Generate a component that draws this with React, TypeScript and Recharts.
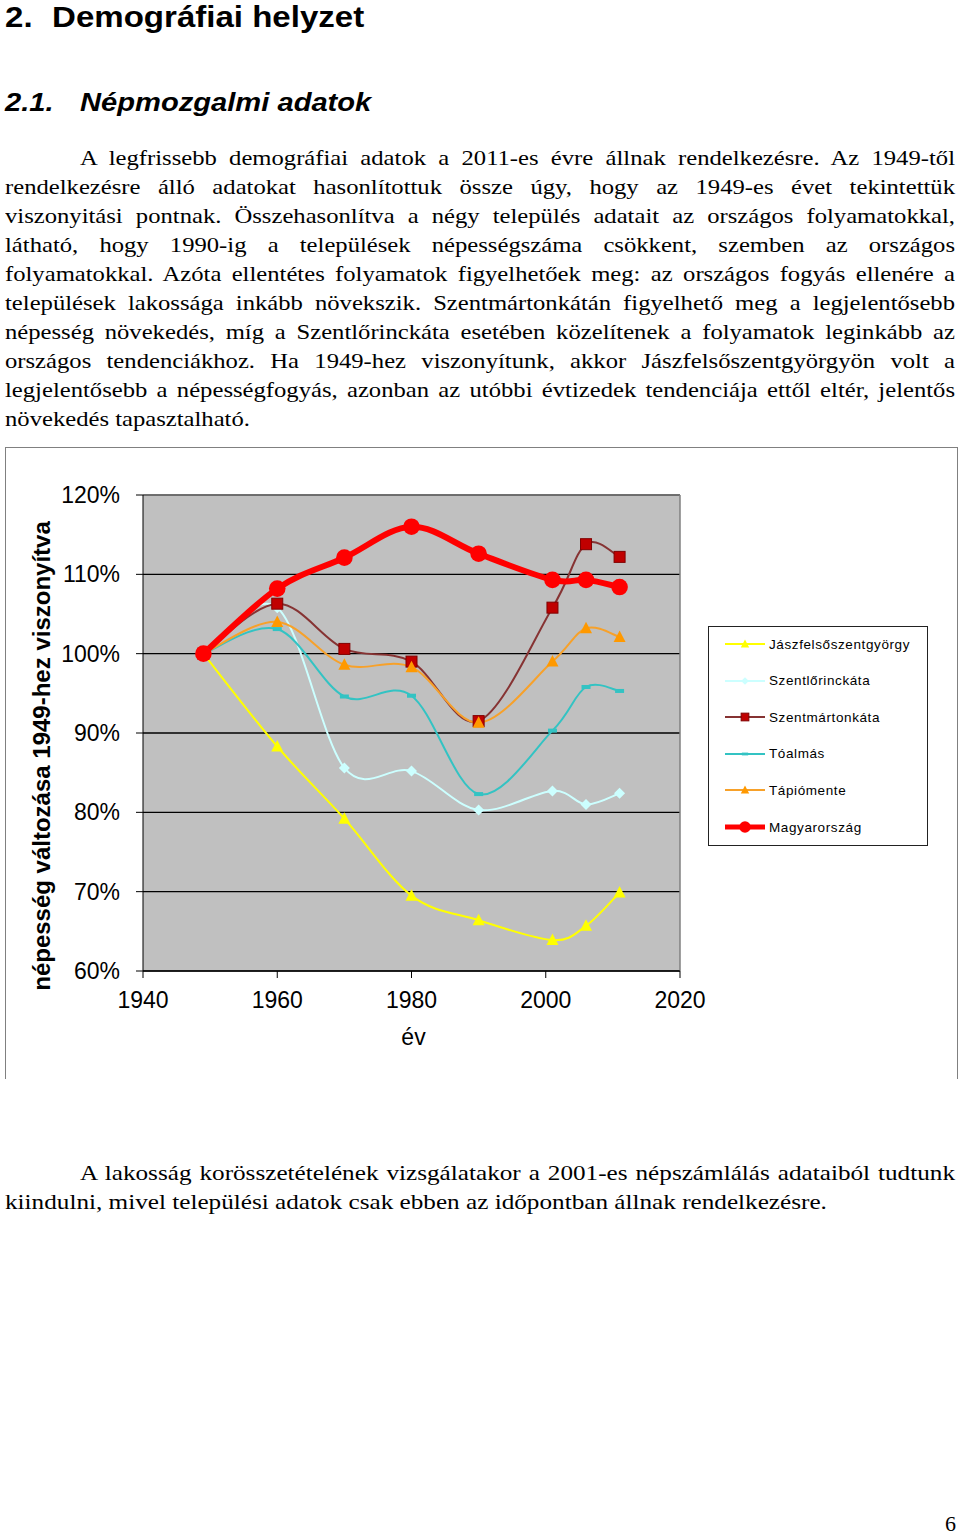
import React from "react";
import { LineChart, Line, XAxis, YAxis, CartesianGrid, Legend, ReferenceLine } from "recharts";

// measurement years and values (% of 1949)
const years = [1949, 1960, 1970, 1980, 1990, 2001, 2006, 2011];
const jaszfelsoszentgyorgy = [100, 88.3, 79.2, 69.5, 66.4, 63.9, 65.7, 69.9];
const szentlorinckata = [100, 105.8, 85.6, 85.2, 80.3, 82.7, 81.0, 82.4];
const szentmartonkata = [100, 106.3, 100.6, 99.0, 91.5, 105.8, 113.8, 112.2];
const toalmas = [100, 103.1, 94.6, 94.7, 82.3, 90.3, 95.8, 95.3];
const tapiomente = [100, 104.0, 98.6, 98.3, 91.3, 99.0, 103.2, 102.1];
const magyarorszag = [100, 108.2, 112.1, 116.0, 112.6, 109.3, 109.3, 108.4];

const xTicks = [1940, 1960, 1980, 2000, 2020];
const yTicks = [60, 70, 80, 90, 100, 110, 120];

const series = [
  { key: "jasz", name: "Jászfelsőszentgyörgy", values: jaszfelsoszentgyorgy, color: "#ffff00", width: 2, marker: "triangle", fill: "#ffff00", edge: "none", legendWidth: 2 },
  { key: "lorinc", name: "Szentlőrinckáta", values: szentlorinckata, color: "#ccffff", width: 2, marker: "diamond", fill: "#ccffff", edge: "none", legendWidth: 2 },
  { key: "marton", name: "Szentmártonkáta", values: szentmartonkata, color: "#863333", width: 2, marker: "square", fill: "#c00000", edge: "#800000", legendWidth: 2 },
  { key: "toalmas", name: "Tóalmás", values: toalmas, color: "#33c3c3", width: 2, marker: "dash", fill: "#33c3c3", edge: "none", legendWidth: 2 },
  { key: "tapio", name: "Tápiómente", values: tapiomente, color: "#f7a12a", width: 2, marker: "triangle", fill: "#ff9900", edge: "none", legendWidth: 2 },
  { key: "hu", name: "Magyarország", values: magyarorszag, color: "#ff0000", width: 6, marker: "circle", fill: "#ff0000", edge: "none", legendWidth: 5 },
];

const data = years.map((year, i) => {
  const row: Record<string, number> = { year };
  series.forEach((s) => (row[s.key] = s.values[i]));
  return row;
});

const paragraph1 = [
  "A legfrissebb demográfiai adatok a 2011-es évre állnak rendelkezésre. Az 1949-től",
  "rendelkezésre álló adatokat hasonlítottuk össze úgy, hogy az 1949-es évet tekintettük",
  "viszonyitási pontnak. Összehasonlítva a négy település adatait az országos folyamatokkal,",
  "látható, hogy 1990-ig a települések népességszáma csökkent, szemben az országos",
  "folyamatokkal. Azóta ellentétes folyamatok figyelhetőek meg: az országos fogyás ellenére a",
  "települések lakossága inkább növekszik. Szentmártonkátán figyelhető meg a legjelentősebb",
  "népesség növekedés, míg a Szentlőrinckáta esetében közelítenek a folyamatok leginkább az",
  "országos tendenciákhoz. Ha 1949-hez viszonyítunk, akkor Jászfelsőszentgyörgyön volt a",
  "legjelentősebb a népességfogyás, azonban az utóbbi évtizedek tendenciája ettől eltér, jelentős",
  "növekedés tapasztalható.",
];

const paragraph2 = [
  "A lakosság korösszetételének vizsgálatakor a 2001-es népszámlálás adataiból tudtunk",
  "kiindulni, mivel települési adatok csak ebben az időpontban állnak rendelkezésre.",
];

const serif = '"Liberation Serif", "Times New Roman", serif';
const sans = '"Liberation Sans", Arial, sans-serif';

// Excel-like smoothed line (Catmull-Rom through the points)
const excelSmooth: any = (context: any) => {
  let pts: number[][] = [];
  return {
    areaStart() {},
    areaEnd() {},
    lineStart() {
      pts = [];
    },
    point(x: number, y: number) {
      pts.push([+x, +y]);
    },
    lineEnd() {
      const n = pts.length;
      if (!n) return;
      context.moveTo(pts[0][0], pts[0][1]);
      for (let i = 0; i < n - 1; i++) {
        const p0 = pts[Math.max(i - 1, 0)];
        const p1 = pts[i];
        const p2 = pts[i + 1];
        const p3 = pts[Math.min(i + 2, n - 1)];
        context.bezierCurveTo(
          p1[0] + (p2[0] - p0[0]) / 6,
          p1[1] + (p2[1] - p0[1]) / 6,
          p2[0] - (p3[0] - p1[0]) / 6,
          p2[1] - (p3[1] - p1[1]) / 6,
          p2[0],
          p2[1]
        );
      }
    },
  };
};

const Marker = ({ kind, cx, cy, fill, edge, s = 1 }: any) => {
  if (cx == null || cy == null) return null;
  switch (kind) {
    case "triangle":
      return <polygon points={`${cx},${cy - 6.5 * s} ${cx - 6 * s},${cy + 5 * s} ${cx + 6 * s},${cy + 5 * s}`} fill={fill} />;
    case "diamond":
      return <polygon points={`${cx},${cy - 5.5 * s} ${cx + 5.5 * s},${cy} ${cx},${cy + 5.5 * s} ${cx - 5.5 * s},${cy}`} fill={fill} />;
    case "square":
      return <rect x={cx - 5.5 * s} y={cy - 5.5 * s} width={11 * s} height={11 * s} fill={fill} stroke={edge} strokeWidth={1} />;
    case "dash":
      return <rect x={cx - 4.5 * s} y={cy - 2 * s} width={9 * s} height={4 * s} fill={fill} />;
    default:
      return <circle cx={cx} cy={cy} r={8.3 * s} fill={fill} />;
  }
};

const LegendBox = () => (
  <div style={{ width: 220, height: 220, boxSizing: "border-box", border: "1px solid #222", background: "#fff", position: "relative" }}>
    {series.map((s, i) => (
      <div key={s.key} style={{ position: "absolute", left: 0, top: 7 + i * 36.6, height: 20, display: "flex", alignItems: "center" }}>
        <svg width={60} height={20}>
          <line x1={16} x2={56} y1={10} y2={10} stroke={s.color} strokeWidth={s.legendWidth} />
          <Marker kind={s.marker} cx={36} cy={10} fill={s.fill} edge={s.edge} s={0.7} />
        </svg>
        <span style={{ fontFamily: sans, fontSize: 13.5, letterSpacing: 0.6, color: "#000", whiteSpace: "nowrap" }}>{s.name}</span>
      </div>
    ))}
  </div>
);

const YLabel = ({ viewBox }: any) => {
  const x = (viewBox?.x ?? 0) + 44;
  const y = (viewBox?.y ?? 0) + (viewBox?.height ?? 0) / 2 + 23;
  return (
    <text x={x} y={y} transform={`rotate(-90, ${x}, ${y})`} textAnchor="middle" fontFamily={sans} fontSize={24} fontWeight="bold" fill="#000">
      népesség változása 1949-hez viszonyítva
    </text>
  );
};

const XLabel = ({ viewBox }: any) => {
  const x = (viewBox?.x ?? 0) + (viewBox?.width ?? 0) / 2 + 2;
  const y = (viewBox?.y ?? 0) + 74;
  return (
    <text x={x} y={y} textAnchor="middle" fontFamily={sans} fontSize={23} fill="#000">
      év
    </text>
  );
};

const TextBlock = ({ lines, top, stretch }: { lines: string[]; top: number; stretch: number }) => (
  <div
    style={{
      position: "absolute",
      left: 5,
      top,
      width: 950 / stretch,
      transform: `scaleX(${stretch})`,
      transformOrigin: "0 0",
      fontFamily: serif,
      fontSize: 22,
      lineHeight: "29px",
      color: "#000",
    }}
  >
    {lines.map((line, i) => (
      <div
        key={i}
        style={{
          whiteSpace: "nowrap",
          textAlign: "justify",
          textAlignLast: i < lines.length - 1 ? "justify" : "left",
          textIndent: i === 0 ? 75 / stretch : 0,
        }}
      >
        {line}
      </div>
    ))}
  </div>
);

const App: React.FC = () => (
  <div style={{ position: "absolute", left: 0, top: 0, width: 960, height: 1537, background: "#fff", overflow: "hidden" }}>
    <div style={{ position: "absolute", left: 5, top: 2, fontFamily: sans, fontWeight: "bold", fontSize: 29.5, lineHeight: "30px", transform: "scaleX(1.12)", transformOrigin: "0 0", whiteSpace: "nowrap" }}>
      <span style={{ display: "inline-block", width: 42 }}>2.</span>Demográfiai helyzet
    </div>
    <div style={{ position: "absolute", left: 5, top: 89, fontFamily: sans, fontWeight: "bold", fontStyle: "italic", fontSize: 26, lineHeight: "26px", transform: "scaleX(1.12)", transformOrigin: "0 0", whiteSpace: "nowrap" }}>
      <span style={{ display: "inline-block", width: 67 }}>2.1.</span>Népmozgalmi adatok
    </div>

    <TextBlock lines={paragraph1} top={143} stretch={1.12} />

    <div style={{ position: "absolute", left: 5, top: 447, width: 953, height: 632, boxSizing: "border-box", borderTop: "1px solid #808080", borderLeft: "1px solid #808080", borderRight: "1px solid #808080" }}>
      <LineChart width={951} height={631} data={data} margin={{ top: 47, right: 277, left: 0, bottom: 0 }}>
        <CartesianGrid vertical={false} stroke="#000" strokeWidth={1.3} fill="#c0c0c0" fillOpacity={1} />
        <ReferenceLine x={2020} stroke="#808080" strokeWidth={1.5} />
        <ReferenceLine y={120} stroke="#808080" strokeWidth={1.5} />
        <XAxis
          dataKey="year"
          type="number"
          domain={[1940, 2020]}
          ticks={xTicks}
          interval={0}
          height={108}
          tickSize={7}
          tickMargin={14}
          axisLine={{ stroke: "#000" }}
          tickLine={{ stroke: "#000" }}
          tick={{ fill: "#000", fontSize: 23, fontFamily: sans }}
          label={<XLabel />}
        />
        <YAxis
          type="number"
          domain={[60, 120]}
          ticks={yTicks}
          interval={0}
          width={137}
          tickSize={7}
          tickMargin={16}
          axisLine={{ stroke: "#000" }}
          tickLine={{ stroke: "#000" }}
          tick={{ fill: "#000", fontSize: 23, fontFamily: sans }}
          tickFormatter={(v: number) => `${v}%`}
          label={<YLabel />}
        />
        {series.map((s) => (
          <Line
            key={s.key}
            dataKey={s.key}
            name={s.name}
            type={excelSmooth}
            stroke={s.color}
            strokeWidth={s.width}
            dot={(p: any) => <Marker key={`${s.key}-${p.index}`} kind={s.marker} cx={p.cx} cy={p.cy} fill={s.fill} edge={s.edge} />}
            activeDot={false}
            isAnimationActive={false}
          />
        ))}
        <Legend layout="vertical" align="center" verticalAlign="middle" content={() => <LegendBox />} wrapperStyle={{ left: 702, top: 178, width: 220, height: 220 }} />
      </LineChart>
    </div>

    <TextBlock lines={paragraph2} top={1158} stretch={1.145} />

    <div style={{ position: "absolute", right: 4, top: 1509, fontFamily: serif, fontSize: 22, lineHeight: "29px" }}>6</div>
  </div>
);

export default App;
